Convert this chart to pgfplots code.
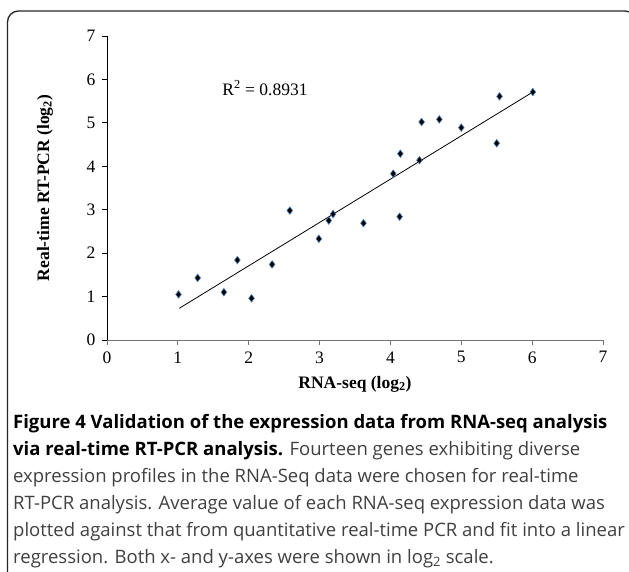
\documentclass[border=0pt]{standalone}
\usepackage{pgfplots}
\pgfplotsset{compat=1.18}
\usepackage{fontspec}
\setmainfont{Liberation Serif}
\newfontfamily\capfont{Open Sans}
\definecolor{mkedge}{RGB}{79,129,189}
\begin{document}
\begin{tikzpicture}
\path[use as bounding box] (0pt,0pt) rectangle (629pt,572pt);
\begin{scope}
\clip (0pt,0pt) rectangle (629pt,572pt);
\draw[line width=1.3pt, rounded corners=11pt, black!85] (7.5pt,-30pt) rectangle (636pt,561pt);
\end{scope}
\begin{axis}[
  at={(107pt,232pt)}, anchor=south west,
  scale only axis, width=496pt, height=304pt,
  xmin=0, xmax=7, ymin=0, ymax=7,
  xtick={0,1,2,3,4,5,6,7}, ytick={0,1,2,3,4,5,6,7},
  axis x line*=bottom, axis y line*=left,
  x axis line style={black!55, line width=0.9pt},
  y axis line style={black, line width=0.8pt},
  tick align=outside, major tick length=5pt,
  x tick style={black!55, line width=0.9pt},
  y tick style={black, line width=0.8pt},
  /pgf/number format/assume math mode=true,
  tick label style={font=\fontsize{17.5}{20}\selectfont},
  yticklabel style={xshift=-3pt},
  xticklabel style={yshift=-3pt},
  xlabel={\textbf{RNA-seq (log\textsubscript{2})}},
  ylabel={\textbf{Real-time RT-PCR (log\textsubscript{2})}},
  label style={font=\fontsize{17.5}{20}\selectfont},
  x label style={at={(axis description cs:0.5,-0.145)}, anchor=center},
  y label style={at={(axis description cs:-0.125,0.5)}, anchor=center},
]
\addplot[only marks, mark=diamond*, mark size=3.8pt,
  mark options={fill=black, draw=mkedge, line width=0.6pt}]
  coordinates {
  (1.01,1.05) (1.28,1.43) (1.65,1.10) (1.84,1.84) (2.04,0.96)
  (2.33,1.74) (2.58,2.98) (2.99,2.33) (3.13,2.75) (3.19,2.90)
  (3.62,2.69) (4.13,2.84) (4.04,3.83) (4.14,4.29) (4.41,4.14)
  (4.44,5.02) (4.69,5.08) (5.00,4.89) (5.50,4.53) (5.54,5.61)
  (6.01,5.71)
  };
\addplot[black, line width=0.8pt] coordinates {(1.02,0.73) (6.01,5.71)};
\node[font=\fontsize{17.5}{20}\selectfont, anchor=center] at (axis cs:2.23,5.80) {R\textsuperscript{2} = 0.8931};
\end{axis}
\node[anchor=north west, align=left, inner sep=0pt, text=black!75,
  font=\capfont\fontsize{18.5}{27}\selectfont] at (13pt,158pt)
  {\textbf{\color{black}Figure 4 Validation of the expression data from RNA-seq analysis}\\
   \textbf{\color{black}via real-time RT-PCR analysis.} Fourteen genes exhibiting diverse\\
   expression profiles in the RNA-Seq data were chosen for real-time\\
   RT-PCR analysis. Average value of each RNA-seq expression data was\\
   plotted against that from quantitative real-time PCR and fit into a linear\\
   regression. Both x- and y-axes were shown in log\textsubscript{2} scale.};
\end{tikzpicture}
\end{document}
